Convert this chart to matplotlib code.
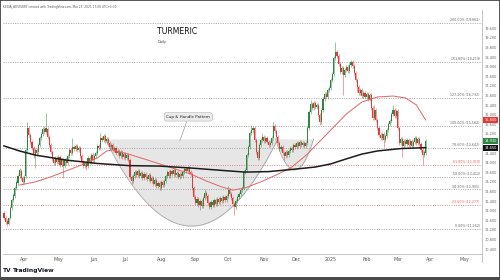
import matplotlib
matplotlib.use('Agg')
import matplotlib.pyplot as plt
import numpy as np
import pandas as pd
from matplotlib.patches import Rectangle
from matplotlib.lines import Line2D
from matplotlib.transforms import blended_transform_factory

# ---------------- data ----------------
start_date = '2024-03-13'

opens = [11930,11720,11590,11470,11720,12130,12470,12630,12970,13180,
13470,13680,13380,13220,13470,14550,15470,15180,14880,14630,
14340,14550,14470,14760,15050,15220,15430,15300,15430,15090,
14760,14470,14180,14010,14220,14050,14260,13930,14130,13880,
14130,14010,14300,14550,14430,14680,14590,14720,14550,14630,
14300,14050,13880,14010,13880,14220,14050,14340,14130,14300,
14430,14720,14630,15050,14970,15130,14930,15010,14840,14680,
14760,14550,14630,14430,14510,14300,14470,14260,14380,14220,
14340,14130,13430,13260,13470,13630,13510,13680,13470,13590,
13380,13550,13430,13340,13510,13260,13380,13130,13300,13050,
13180,12970,13220,13090,13260,13470,13630,13470,13680,13550,
13720,13510,13590,13430,13550,13470,13630,13760,13680,13800,
13630,13550,12970,12590,12340,12510,12260,12430,12220,12550,
12760,12630,12340,12180,12380,12260,12470,12300,12510,12380,
12550,12430,12590,12470,12630,12880,12720,12550,12300,12180,
12430,12590,12720,12880,12970,13630,13720,14340,14680,15260,
15380,15470,14970,14470,14220,14760,14970,15090,14930,15050,
14880,14760,14840,15050,15550,15340,15090,14840,14590,14680,
14430,14300,14470,14340,14510,14630,14550,14760,14680,14840,
14720,14880,14760,14840,14720,14840,15470,16130,16470,16300,
16510,16340,16430,16010,15720,16220,16680,16880,16760,17050,
17130,17470,17720,18380,18630,18470,18130,17800,17970,17680,
17880,18010,17840,18090,18220,18050,17760,17470,17180,16930,
17050,16800,16930,16760,16880,16680,16840,16300,15880,16220,
15800,15470,15180,15050,15220,14970,15130,15380,15630,15760,
16050,16220,15970,16180,15470,14840,15010,14720,14930,14800,
14970,14760,14930,14720,14880,15050,14840,15010,14800,14550,
14340,14430]

closes = [11720,11550,11470,11720,12130,12470,12680,12970,13220,13470,
13720,13380,13220,13430,14550,15470,15180,14880,14630,14340,
14550,14430,14760,15050,15220,15430,15300,15470,15090,14760,
14470,14180,14010,14220,14050,14260,13930,14130,13880,14130,
14010,14300,14550,14430,14680,14590,14720,14550,14630,14300,
14050,13880,14010,13840,14220,14050,14340,14130,14300,14430,
14720,14630,15050,14970,15130,14930,15010,14840,14680,14760,
14550,14630,14430,14510,14300,14470,14260,14380,14220,14340,
14130,13430,13260,13470,13630,13510,13680,13470,13590,13380,
13550,13430,13340,13510,13260,13380,13130,13300,13050,13180,
13010,13220,13090,13260,13470,13630,13470,13680,13550,13720,
13510,13590,13430,13550,13470,13630,13760,13680,13800,13630,
13550,12970,12590,12340,12510,12260,12430,12220,12550,12760,
12630,12340,12180,12380,12260,12470,12300,12510,12380,12550,
12430,12590,12470,12630,12880,12720,12550,12300,12180,12430,
12590,12720,12880,12970,13630,13720,14340,14680,15260,15380,
15470,14970,14470,14220,14760,14970,15090,14930,15050,14880,
14760,14840,15050,15550,15340,15090,14840,14590,14680,14430,
14300,14470,14340,14510,14630,14550,14760,14680,14840,14720,
14880,14760,14840,14720,14840,15470,16130,16470,16300,16510,
16340,16430,16010,15720,16220,16680,16880,16760,17050,17130,
17470,17720,18380,18630,18470,18130,17800,17970,17680,17880,
18010,17840,18090,18220,18050,17760,17470,17180,16930,17050,
16800,16930,16760,16880,16680,16840,16300,15880,16220,15800,
15470,15180,15050,15220,14970,15130,15380,15630,15760,16050,
16220,15970,16180,15470,14840,15010,14720,14930,14800,14970,
14760,14930,14720,14880,15050,14840,15010,14800,14550,14340,
14470,14930]

highs = [12010,11800,11680,11760,12220,12550,12760,13050,13300,13550,
13800,13760,13470,13510,14630,15720,15550,15260,14970,14720,
14630,14630,14840,15130,15300,15510,15550,16090,15510,15180,
14840,14550,14260,14300,14300,14340,14340,14220,14220,14220,
14260,14380,14630,14630,15050,14760,14800,14800,14720,14720,
14380,14130,14090,14090,14300,14300,14430,14430,14380,14510,
14800,14800,15260,15130,15220,15220,15090,15090,14930,14840,
14840,14720,14720,14590,14590,14550,14550,14470,14470,14430,
14430,14220,13510,13550,13720,13720,13760,13760,13680,13680,
13630,13630,13510,13590,13590,13470,13470,13380,13380,13260,
13260,13300,13300,13340,13550,13720,13720,13760,13760,13800,
13800,13680,13680,13630,13630,13720,13840,13840,13880,13880,
13720,13630,13050,12680,12590,12590,12510,12510,12630,12930,
12840,12720,12430,12470,12470,12550,12550,12590,12590,12630,
12630,12680,12680,12720,13050,12970,12800,12630,12380,12510,
12680,12800,12970,13050,13720,13800,14430,14760,15340,15590,
15550,15550,15050,14550,14840,15050,15260,15180,15130,15130,
14970,14930,15130,15720,15630,15430,15180,14930,14760,14760,
14510,14550,14550,14590,14720,14720,14840,14840,14930,14930,
14970,14970,14930,14930,14930,15550,16220,16630,16550,16590,
16590,16510,16510,16090,16300,16760,16970,16970,17130,17220,
17550,17800,18470,19050,18720,18550,18220,18050,18050,17970,
18090,18090,18180,18300,18300,18130,17840,17550,17260,17130,
17130,17010,17010,16970,16970,16930,16930,16380,16430,16300,
15880,15550,15260,15300,15300,15220,15470,15720,15840,16130,
16430,16300,16260,16260,15550,15090,15090,15010,15010,15050,
15050,15010,15010,14970,15130,15130,15090,15090,14880,14630,
14550,15010]

lows = [11630,11470,11380,11430,11680,12050,12380,12550,12880,13090,
13380,13300,13090,13130,13380,14470,15090,14800,14550,14220,
13800,14300,14380,14680,14970,15130,15220,15220,15010,14680,
14380,14090,13930,13930,13970,13970,13840,13840,13380,13800,
13930,13930,14220,14340,14340,14510,14510,14470,14470,14220,
13970,13800,13800,13720,13800,13970,13970,14050,14050,14220,
14340,14550,14550,14880,14880,14840,14840,14760,14590,14590,
14470,14470,14340,14340,14220,14220,14180,14180,14130,14130,
14050,13340,13130,13180,13380,13430,13430,13380,13380,13300,
13300,13340,13260,13260,13180,13180,13050,13050,12970,12970,
12880,12880,13010,13010,13180,13380,13380,13380,13470,13470,
13430,13430,13340,13340,13380,13380,13550,13590,13590,13550,
13470,12880,12510,12260,12260,12180,12050,12130,12130,12470,
12550,12260,12090,12090,12180,12180,12220,12220,12300,12300,
12340,12340,12380,12380,12550,12630,12470,12220,11840,12090,
12340,12510,12630,12800,12880,13550,13630,14260,14590,15180,
15260,14880,14380,14130,14130,14680,14880,14840,14840,14800,
14680,14680,14760,14970,15260,15010,14760,14510,14510,14340,
14130,14220,14260,14260,14430,14470,14470,14590,14590,14630,
14630,14680,14680,14630,14630,14760,15380,16050,16220,16220,
16260,16260,15930,15590,15630,16130,16590,16680,16680,16970,
17050,17380,17630,18300,18380,18050,17720,17720,16840,17590,
17800,17760,17760,18010,17970,17680,17380,16970,16840,16840,
16720,16720,16680,16680,16590,16590,16220,15800,15800,15720,
15380,15090,14970,14970,14680,14880,15050,15300,15550,15680,
15970,15880,15880,15380,14760,14760,14260,14630,14720,14720,
14680,14680,14630,14630,14800,14760,14760,14720,14470,13930,
14260,14340]

# moving averages (bar index, value)
ma200_idx = [0, 10, 20, 40, 60, 80, 100, 120, 140, 155, 170, 185, 200, 210, 220, 230, 240, 255, 271]
ma200_val = [14720, 14510, 14340, 14130, 13990, 13900, 13880, 13800, 13700, 13630,
             13650, 13740, 13840, 13970, 14180, 14380, 14510, 14610, 14650]
ma50_idx = [10, 20, 30, 40, 50, 60, 66, 70, 80, 90, 100, 110, 120, 130, 140, 147, 155,
            165, 175, 185, 195, 200, 210, 220, 230, 240, 250, 258, 265, 271]
ma50_val = [13090, 13220, 13430, 13680, 13930, 14220, 14510, 14550, 14380, 14180, 13970,
            13760, 13550, 13260, 13010, 12880, 12970, 13220, 13510, 13840, 14380, 14720,
            15380, 16050, 16550, 16760, 16800, 16720, 16430, 15800]

# Fibonacci extension
fib_low = 11262
fib_high = 15562
fib_ratios = [0.0, 0.236, 0.382, 0.5, 0.618, 0.786, 1.0, 1.272, 1.618, 2.0]
fib_red = [0.236, 0.618]

# cup & handle drawing (bar index / price)
cup_left, cup_right, cup_top, cup_bottom = 65, 176, 15010, 11380
handle_left, handle_right, handle_bottom = 174.5, 199, 13720
callout_text = 'Cup & Handle Pattern'
callout_xy = (113, 14930)
callout_box = (118.5, 15930)

month_labels = ['Apr', 'May', 'Jun', 'Jul', 'Aug', 'Sep', 'Oct', 'Nov', 'Dec',
                '2025', 'Feb', 'Mar', 'Apr', 'May']
price_ticks = list(range(10400, 20000, 400))

title = 'TURMERIC'
subtitle = 'Daily'
header = 'KEDIA_ADVISORY created with TradingView.com, Mar 27, 2025 17:06 UTC+5:30'

UP = '#2e8540'
DOWN = '#e53935'
GRID = '#9a9a9a'
REDFIB = '#e57373'

# ---------------- figure ----------------
W, H = 500, 280
fig = plt.figure(figsize=(W / 100, H / 100), dpi=100)
fig.patch.set_facecolor('white')
ax = fig.add_axes([3 / W, 1 - 254 / H, 479 / W, 240 / H])
ax.set_facecolor('white')
ax.set_xlim(-0.64, 307.2)
ax.set_ylim(10217, 20217)
for s in ['top', 'left', 'right']:
    ax.spines[s].set_visible(False)
ax.spines['bottom'].set_color('#b8bbc2')
ax.spines['bottom'].set_linewidth(0.6)
ax.set_yticks([])

# month ticks from business-day calendar
all_dates = pd.bdate_range(start_date, periods=len(closes) + 45)
month_pos = [i for i in range(1, len(all_dates)) if all_dates[i].month != all_dates[i - 1].month]
month_pos = month_pos[:len(month_labels)]
ax.set_xticks(month_pos)
ax.set_xticklabels(month_labels[:len(month_pos)])
ax.tick_params(axis='x', length=0, labelsize=3.4, colors='#555555', pad=2.2)

# cup & handle shading + arcs
cx = (cup_left + cup_right) / 2
ca = (cup_right - cup_left) / 2
xs = np.linspace(cup_left, cup_right, 200)
ys = cup_bottom + (cup_top - cup_bottom) * ((xs - cx) / ca) ** 2
ax.fill_between(xs, ys, cup_top, color='#e6e6e6', lw=0, zorder=0.5)
ax.plot(xs, ys, color='#a6a6a6', lw=0.6, zorder=0.7)
hx = (handle_left + handle_right) / 2
ha_ = (handle_right - handle_left) / 2
xs2 = np.linspace(handle_left, handle_right, 100)
ys2 = handle_bottom + (cup_top - handle_bottom) * ((xs2 - hx) / ha_) ** 2
ax.fill_between(xs2, ys2, cup_top, color='#e6e6e6', lw=0, zorder=0.5)
ax.plot(xs2, ys2, color='#a6a6a6', lw=0.6, zorder=0.7)

# fib levels
tr_fig = blended_transform_factory(fig.transFigure, ax.transData)
for r in fib_ratios:
    v = fib_low + r * (fib_high - fib_low)
    col = REDFIB if r in fib_red else GRID
    ax.axhline(v, color=col, lw=0.6, ls=(0, (1.2, 1.6)), zorder=1)
    ax.text(480 / W, v + 40, f'{r * 100:.2f}% ({v:,.0f})', transform=tr_fig,
            ha='right', va='bottom', fontsize=2.3, color='#e06060' if r in fib_red else '#666666',
            clip_on=False, zorder=6)

# candles
x = np.arange(len(closes))
o = np.array(opens); c = np.array(closes); hi = np.array(highs); lo = np.array(lows)
colors = np.where(c >= o, UP, DOWN)
ax.vlines(x, lo, hi, colors=colors, lw=0.45, alpha=0.75, zorder=3)
ax.bar(x, np.abs(c - o), bottom=np.minimum(o, c), width=0.72, color=colors, lw=0, zorder=4)

# moving averages
ax.plot(ma50_idx, ma50_val, color='#e06666', lw=0.7, zorder=5)
ax.plot(ma200_idx, ma200_val, color='#1c1c1c', lw=1.1, zorder=5)

# callout
ax.annotate(callout_text, xy=callout_xy, xytext=callout_box, ha='center', va='center',
            fontsize=2.9, color='#222222', zorder=7,
            bbox=dict(boxstyle='round,pad=0.55,rounding_size=0.6', fc='#ebebeb', ec='#b5b5b5', lw=0.4),
            arrowprops=dict(arrowstyle='-', color='#9a9a9a', lw=0.5, shrinkA=0, shrinkB=0))

# price axis labels
value_labels = [(ma50_val[-1], '#e53935'), (closes[-1], '#2e8540'), (ma200_val[-1], '#131313')]
for t in price_ticks:
    if any(abs(t - v) < 180 for v, _ in value_labels):
        continue
    ax.text(490.5 / W, t, f'{t:,}', transform=tr_fig, ha='center', va='center',
            fontsize=2.5, color='#666666', clip_on=False)
for v, col in value_labels:
    ax.text(490.5 / W, v, f'{v:,.0f}', transform=tr_fig, ha='center', va='center',
            fontsize=2.5, color='white', clip_on=False, zorder=8,
            bbox=dict(boxstyle='square,pad=0.3', fc=col, ec='none'))

# price axis line
fig.add_artist(Line2D([482 / W, 482 / W], [1 - 10 / H, 1 - 262 / H], transform=fig.transFigure,
                      color='#b8bbc2', lw=0.6))

# titles & header
fig.text(157 / W, 1 - 31.5 / H, title, fontsize=5.6, color='#111111', ha='left', va='center')
fig.text(157.5 / W, 1 - 42 / H, subtitle, fontsize=2.5, color='#333333', ha='left', va='center')
fig.text(3 / W, 1 - 7 / H, header, fontsize=2.1, color='#555555', ha='left', va='center')

# TradingView logo
fig.text(3 / W, 1 - 270.5 / H, 'TV', fontsize=4.2, fontweight='heavy', color='#131722',
         ha='left', va='center')
fig.text(13 / W, 1 - 270.5 / H, 'TradingView', fontsize=4.3, fontweight='bold', color='#131722',
         ha='left', va='center')

# outer frame
fig.add_artist(Rectangle((0, 0), 1, 1, transform=fig.transFigure, fill=False,
                         ec='#3a3a3a', lw=1.2))
fig.add_artist(Rectangle((0, 0), 1, 3 / H, transform=fig.transFigure, fc='#4a4a4a', ec='none'))

fig.savefig('out.png', dpi=100, facecolor='white')
